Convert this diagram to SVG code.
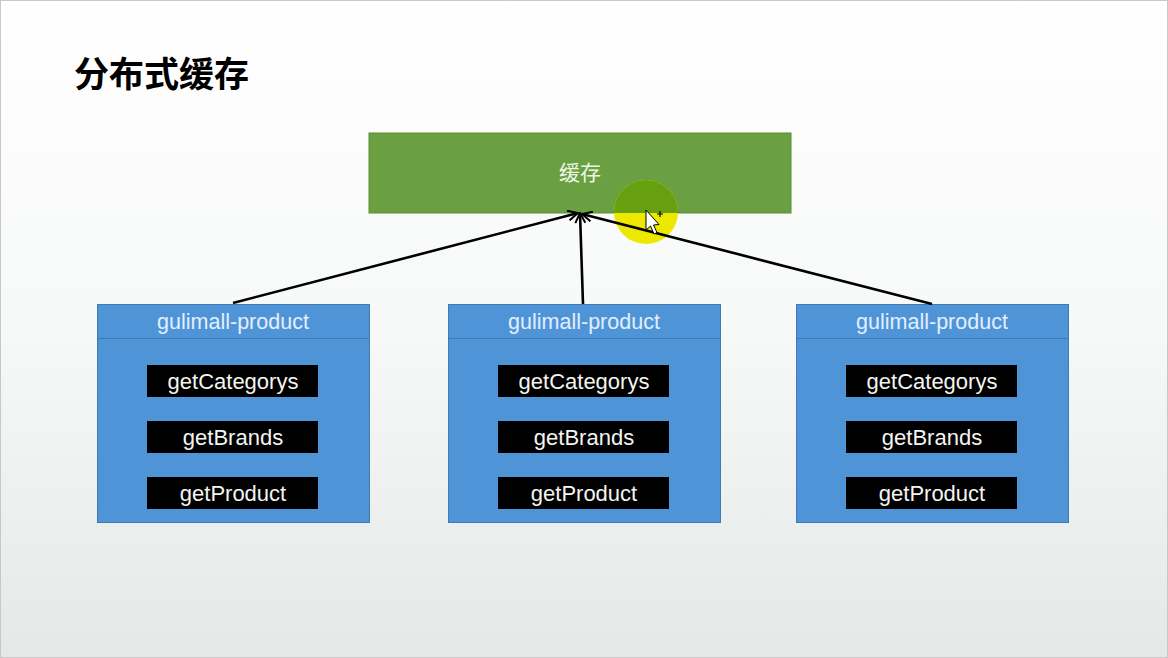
<svg xmlns="http://www.w3.org/2000/svg" width="1168" height="658" viewBox="0 0 1168 658">
<defs>
<linearGradient id="bg" x1="0" y1="0" x2="0" y2="1">
<stop offset="0" stop-color="#ffffff"/>
<stop offset="0.5" stop-color="#f7f8f8"/>
<stop offset="1" stop-color="#e6e7e7"/>
</linearGradient>
<marker id="arr" viewBox="0 0 12 12" refX="11" refY="6" markerWidth="12" markerHeight="12" markerUnits="userSpaceOnUse" orient="auto">
<path d="M1,1 L11,6 L1,11" fill="none" stroke="#000" stroke-width="2"/>
</marker>
<clipPath id="boxclip"><rect x="369" y="133" width="422" height="80"/></clipPath>
<style>
.svc{fill:#5094d8;stroke:#3f7ab5;stroke-width:1}
.sep{stroke:#3f78b2;stroke-width:1}
.hdr{font-family:"Liberation Sans",Arial,sans-serif;font-size:21.5px;fill:#e2efff;text-anchor:middle}
.fn{fill:#000}
.fnt{font-family:"Liberation Sans",Arial,sans-serif;font-size:22px;fill:#f4f4f0;text-anchor:middle}
.conn{stroke:#000;stroke-width:2.6;fill:none;marker-end:url(#arr)}
</style>
</defs>
<rect x="0" y="0" width="1168" height="658" fill="url(#bg)"/>
<rect x="0.5" y="0.5" width="1167" height="657" fill="none" stroke="#c8c8c8" stroke-width="1"/>
<text x="74" y="87" font-family="'Noto Sans CJK SC',sans-serif" font-weight="bold" font-size="35" fill="#000">分布式缓存</text>

<g id="cache">
<rect x="369" y="133" width="422" height="80" fill="#6aa042" stroke="#5a8c38" stroke-width="1"/>
<text x="580" y="180" font-family="'Noto Sans CJK SC',sans-serif" font-size="21" fill="#eef6e6" text-anchor="middle">缓存</text>
</g>

<g id="svc1">
<rect class="svc" x="97.5" y="304.5" width="272" height="218"/>
<line class="sep" x1="98" y1="338.5" x2="369" y2="338.5"/>
<text class="hdr" x="233" y="329">gulimall-product</text>
<rect class="fn" x="147" y="365" width="171" height="32"/>
<text class="fnt" x="233" y="389">getCategorys</text>
<rect class="fn" x="147" y="421" width="171" height="32"/>
<text class="fnt" x="233" y="445">getBrands</text>
<rect class="fn" x="147" y="477" width="171" height="32"/>
<text class="fnt" x="233" y="501">getProduct</text>
</g>

<g id="svc2">
<rect class="svc" x="448.5" y="304.5" width="272" height="218"/>
<line class="sep" x1="449" y1="338.5" x2="720" y2="338.5"/>
<text class="hdr" x="584" y="329">gulimall-product</text>
<rect class="fn" x="498" y="365" width="171" height="32"/>
<text class="fnt" x="584" y="389">getCategorys</text>
<rect class="fn" x="498" y="421" width="171" height="32"/>
<text class="fnt" x="584" y="445">getBrands</text>
<rect class="fn" x="498" y="477" width="171" height="32"/>
<text class="fnt" x="584" y="501">getProduct</text>
</g>

<g id="svc3">
<rect class="svc" x="796.5" y="304.5" width="272" height="218"/>
<line class="sep" x1="797" y1="338.5" x2="1068" y2="338.5"/>
<text class="hdr" x="932" y="329">gulimall-product</text>
<rect class="fn" x="846" y="365" width="171" height="32"/>
<text class="fnt" x="932" y="389">getCategorys</text>
<rect class="fn" x="846" y="421" width="171" height="32"/>
<text class="fnt" x="932" y="445">getBrands</text>
<rect class="fn" x="846" y="477" width="171" height="32"/>
<text class="fnt" x="932" y="501">getProduct</text>
</g>

<circle cx="646" cy="212" r="32" fill="#ece800"/>
<circle cx="646" cy="212" r="32" fill="#66a010" clip-path="url(#boxclip)"/>

<g id="connectors">
<line class="conn" x1="233" y1="303" x2="578" y2="213"/>
<line class="conn" x1="583" y1="304" x2="580" y2="213"/>
<line class="conn" x1="932" y1="304" x2="582" y2="214"/>
</g>

<g id="cursor">
<path d="M646,210 L646,230 L650.5,226 L654,234 L657,232.5 L653.5,225 L659,224.5 Z" fill="#fff" stroke="#000" stroke-width="1"/>
<path d="M660,211 L660,217 M657,214 L663,214" stroke="#000" stroke-width="1.2"/>
</g>
</svg>
